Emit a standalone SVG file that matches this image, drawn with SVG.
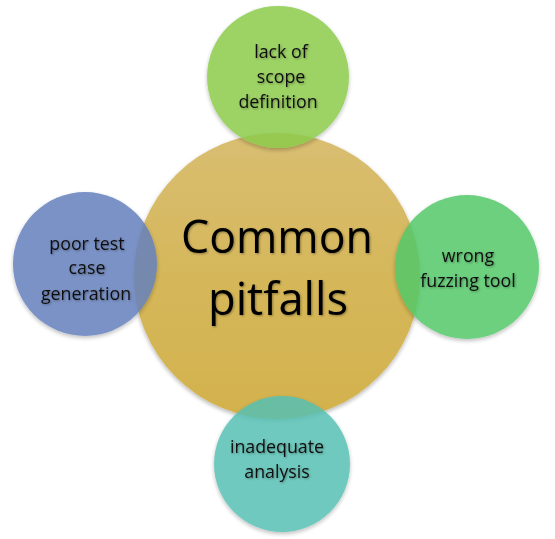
<svg xmlns="http://www.w3.org/2000/svg" width="555" height="539" viewBox="0 0 555 539">
<defs>
<linearGradient id="gc" x1="0" y1="0" x2="0" y2="1"><stop offset="0" stop-color="#D9BE72"/><stop offset="0.5" stop-color="#D5B75A"/><stop offset="1" stop-color="#D3B24D"/></linearGradient>
<filter id="sh" x="-20%" y="-20%" width="140%" height="140%"><feGaussianBlur in="SourceAlpha" stdDeviation="2"/><feOffset dx="0" dy="2"/><feComponentTransfer><feFuncA type="linear" slope="0.3"/></feComponentTransfer><feMerge><feMergeNode/><feMergeNode in="SourceGraphic"/></feMerge></filter>
<filter id="ts" x="-10%" y="-10%" width="120%" height="130%"><feGaussianBlur in="SourceAlpha" stdDeviation="1"/><feOffset dx="0.5" dy="1"/><feComponentTransfer><feFuncA type="linear" slope="0.35"/></feComponentTransfer><feMerge><feMergeNode/><feMergeNode in="SourceGraphic"/></feMerge></filter>
</defs>
<style>
.t{font-family:"Open Sans","Noto Sans",sans-serif;font-size:17.8px;fill:#111;text-anchor:middle;filter:url(#ts)}
.big{font-family:"Open Sans","Noto Sans",sans-serif;font-size:46px;fill:#000;text-anchor:middle;filter:url(#ts)}
.sat{opacity:0.85;filter:url(#sh)}
</style>
<rect width="555" height="539" fill="#fff"/>
<g id="center">
<circle cx="277" cy="276" r="143" fill="url(#gc)" filter="url(#sh)"/>
<text class="big" x="277" y="253" textLength="192" lengthAdjust="spacingAndGlyphs">Common</text>
<text class="big" x="278" y="315" textLength="140" lengthAdjust="spacingAndGlyphs">pitfalls</text>
</g>
<g id="connectors"></g>
<g id="top">
<circle class="sat" cx="278" cy="77" r="71" fill="#8CCB4C"/>
<text class="t" x="281" y="58">lack of</text>
<text class="t" x="281" y="83">scope</text>
<text class="t" x="278" y="108">definition</text>
</g>
<g id="right">
<circle class="sat" cx="467" cy="267" r="72" fill="#52C868"/>
<text class="t" x="468" y="262">wrong</text>
<text class="t" x="468" y="287">fuzzing tool</text>
</g>
<g id="left">
<circle class="sat" cx="85" cy="264" r="72" fill="#6580BD"/>
<text class="t" x="87" y="250">poor test</text>
<text class="t" x="87" y="274">case</text>
<text class="t" x="86" y="300">generation</text>
</g>
<g id="bottom">
<circle class="sat" cx="282" cy="464" r="68" fill="#56C0B3"/>
<text class="t" x="277" y="453">inadequate</text>
<text class="t" x="277" y="478">analysis</text>
</g>
</svg>
